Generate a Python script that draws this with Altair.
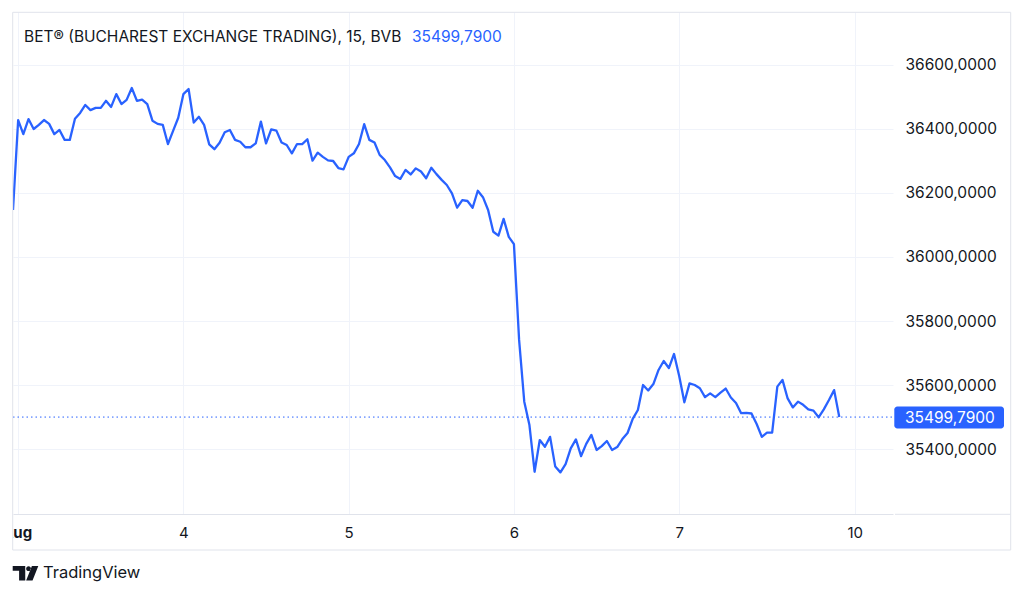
import altair as alt
import pandas as pd

# ---- data (15-minute bars, 31 Jul last bar + 3..7 Aug) ----
values = [
    36147,
    36428, 36384, 36431, 36400, 36413, 36428, 36416, 36384, 36397, 36366, 36366,
    36432, 36450, 36475, 36459, 36466, 36466, 36488, 36469, 36509, 36478, 36491,
    36528, 36488, 36492, 36478, 36426, 36416, 36413, 36353, 36394, 36435,
    36509, 36525, 36420, 36438, 36413, 36352, 36337, 36357, 36390, 36397, 36366,
    36360, 36343, 36343, 36355, 36423, 36355, 36399, 36395, 36358, 36350, 36324,
    36353, 36353, 36368, 36301, 36326, 36313, 36302, 36300, 36278, 36274,
    36313, 36324, 36353, 36415, 36366, 36358, 36319, 36303, 36280, 36253, 36244,
    36272, 36258, 36277, 36267, 36246, 36279, 36259, 36241, 36225, 36199, 36154,
    36178, 36175, 36154, 36207, 36187, 36147, 36079, 36067, 36119, 36063,
    36040, 35741, 35548, 35475, 35329, 35428, 35407, 35438, 35345, 35327, 35353,
    35402, 35430, 35378, 35416, 35444, 35397, 35409, 35425, 35397, 35406, 35431,
    35450, 35494, 35522, 35600, 35583, 35603, 35647, 35675, 35653, 35697,
    35628, 35546, 35605, 35600, 35590, 35562, 35574, 35562, 35576, 35589, 35561,
    35544, 35512, 35513, 35511, 35478, 35438, 35451, 35451, 35595, 35616, 35558,
    35530, 35548, 35538, 35524, 35520, 35499, 35524, 35553, 35584, 35499.79,
]
tick_pos = [1, 33, 65, 97, 129, 163]
tick_lbl = ["Aug", "4", "5", "6", "7", "10"]
y_ticks = [35400, 35600, 35800, 36000, 36200, 36400, 36600]
last_price = 35499.79
title_text = "BET® (BUCHAREST EXCHANGE TRADING), 15, BVB"
brand_text = "TradingView"

BLUE = "#2962ff"
INK = "#131722"
GRID = "#f0f3fa"
FRAME = "#e0e3eb"
FONT = "Inter"

df = pd.DataFrame({"i": list(range(len(values))), "v": values})
last_df = pd.DataFrame({"v": [last_price]})
one = pd.DataFrame({"k": [0]})

W, H = 880, 502
xs = alt.Scale(domain=[0, 170.4], nice=False, zero=False)
ys = alt.Scale(domain=[35196.9, 36765.6], nice=False, zero=False)

pos_arr = "[" + ",".join(str(p) for p in tick_pos) + "]"
lbl_arr = "[" + ",".join("'" + s + "'" for s in tick_lbl) + "]"

x_axis = alt.Axis(
    values=tick_pos,
    labelExpr=f"{lbl_arr}[indexof({pos_arr}, datum.value)]",
    grid=True, gridColor=GRID, gridWidth=1,
    ticks=False, domain=True, domainColor=FRAME,
    labelPadding=11.5, labelFontSize=15, labelFont=FONT, labelColor=INK,
    labelFontWeight={"condition": {"test": "datum.value < 10", "value": "bold"}, "value": "normal"},
    labelOffset={"condition": {"test": "datum.value < 10", "value": -1.5}, "value": 0},
    labelFlush=False, labelOverlap=False, title=None,
)
y_axis = alt.Axis(
    orient="right", values=y_ticks,
    labelExpr="replace(format(datum.value, '.4f'), '.', ',')",
    grid=True, gridColor=GRID, gridWidth=1,
    ticks=False, domain=False,
    labelPadding=12, labelFontSize=15.5, labelFont=FONT, labelColor=INK,
    labelOverlap=False, title=None,
)

line = alt.Chart(df).mark_line(color=BLUE, strokeWidth=2.3, strokeJoin="round", clip=True).encode(
    x=alt.X("i:Q", scale=xs, axis=x_axis),
    y=alt.Y("v:Q", scale=ys, axis=y_axis),
)

dotted = alt.Chart(last_df).mark_rule(color=BLUE, strokeDash=[1.5, 3], strokeWidth=1).encode(
    y=alt.Y("v:Q", scale=ys), x=alt.value(0), x2=alt.value(W)
)

price_box = alt.Chart(last_df).mark_rect(color=BLUE, cornerRadius=3, yOffset=-10.5, y2Offset=11.5).encode(
    y=alt.Y("v:Q", scale=ys), y2=alt.Y2("v"), x=alt.value(881.3), x2=alt.value(991)
)
price_txt = alt.Chart(last_df).transform_calculate(
    lbl="replace(format(datum.v, '.4f'), '.', ',')"
).mark_text(align="left", baseline="middle", color="white", font=FONT, fontSize=15.5, dy=0.5).encode(
    y=alt.Y("v:Q", scale=ys), x=alt.value(892), text="lbl:N"
)

title_black = alt.Chart(one).mark_text(
    align="left", baseline="alphabetic", font=FONT, fontSize=15.5, color=INK, text=title_text
).encode(x=alt.value(11), y=alt.value(29.5))
title_blue = alt.Chart(last_df).transform_calculate(
    lbl="replace(format(datum.v, '.4f'), '.', ',')"
).mark_text(align="left", baseline="alphabetic", font=FONT, fontSize=15.5, color=BLUE).encode(
    x=alt.value(399), y=alt.value(29.5), text="lbl:N"
)

mask = alt.Chart(one).mark_rect(color="white").encode(
    x=alt.value(-6), x2=alt.value(0), y=alt.value(503), y2=alt.value(537)
)
frame = alt.Chart(one).mark_rect(fillOpacity=0, stroke=FRAME, strokeWidth=1).encode(
    x=alt.value(-0.3), x2=alt.value(997.7), y=alt.value(0.3), y2=alt.value(538)
)
axis_sep = alt.Chart(one).mark_rule(color=FRAME, strokeWidth=1).encode(
    x=alt.value(882), x2=alt.value(997.7), y=alt.value(502.3)
)

logo_path = (
    "M-1,-0.57 L-0.02,-0.57 L-0.02,0.57 L-0.5,0.57 L-0.5,-0.2 L-1,-0.2 Z "
    "M0.05,-0.36 A0.19,0.19 0 1,0 0.43,-0.36 A0.19,0.19 0 1,0 0.05,-0.36 Z "
    "M0.5,-0.57 L1,-0.57 L0.55,0.57 L0.05,0.57 Z"
)
logo = alt.Chart(one).mark_point(
    shape=logo_path, size=655, filled=True, color=INK, opacity=1, strokeWidth=0
).encode(x=alt.value(12.5), y=alt.value(561.3))
brand = alt.Chart(one).mark_text(
    align="left", baseline="alphabetic", font=FONT, fontSize=16.5, color=INK, text=brand_text
).encode(x=alt.value(30), y=alt.value(566))

chart = alt.layer(
    line, dotted, price_box, price_txt, title_black, title_blue, mask, frame, axis_sep, logo, brand
).properties(
    width=W, height=H,
    autosize=alt.AutoSizeParams(type="none"),
    padding={"left": 5, "top": 4, "right": 122, "bottom": 80},
    background="white",
).configure_view(strokeWidth=0)

chart.save("out.html", embed_options={"renderer": "svg", "actions": False})
